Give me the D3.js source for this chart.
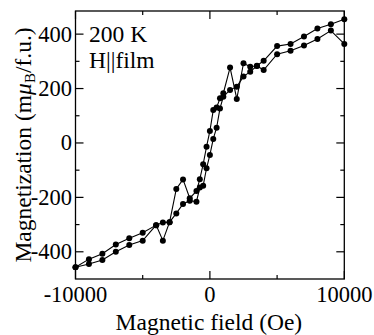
<!DOCTYPE html>
<html><head><meta charset="utf-8">
<script src="https://cdn.jsdelivr.net/npm/d3@7"></script>
<style>body{margin:0;background:#fff}svg{display:block}text{font-family:"Liberation Serif","Times New Roman",serif;fill:#000}</style>
</head><body>
<script>
const fieldUpper = [-10000,-9000,-8000,-7000,-6000,-5000,-4000,-3500,-3000,-2500,-2000,-1500,-1000,-750,-500,-250,0,250,500,750,1000,1500,2000,2500,3000,3500,4000,5000,6000,7000,8000,9000,10000];
const magUpper = [-457,-427,-407,-373,-350,-330,-302,-292,-291,-169,-134,-203,-177,-133,-78,-14,44,121,130,164,183,277,162,293,280,284,302,356,364,391,421,436,455];
const fieldLower = [-10000,-9000,-8000,-7000,-6000,-5000,-4000,-3500,-3000,-2500,-2000,-1500,-1000,-750,-500,-250,0,250,500,750,1000,1500,2000,2500,3000,3500,4000,5000,6000,7000,8000,9000,10000];
const magLower = [-457,-445,-430,-400,-375,-359,-302,-359,-291,-259,-224,-212,-216,-164,-157,-93,-44,15,56,127,170,195,207,244,262,283,268,326,339,358,382,413,364];
const xTickLabels = ["-10000","0","10000"];
const yTickLabels = ["-400","-200","0","200","400"];

const W=374,H=335;
const m={l:75.5,r:344.3,t:11,b:279};
const svg=d3.select("body").append("svg").attr("width",W).attr("height",H);
const x=d3.scaleLinear().domain([-10000,10000]).range([m.l,m.r]);
const y=d3.scaleLinear().domain([-500,485]).range([m.b,m.t]);

const g=svg.append("g");
g.append("rect").attr("x",m.l).attr("y",m.t).attr("width",m.r-m.l).attr("height",m.b-m.t)
 .attr("fill","none").attr("stroke","#000").attr("stroke-width",1.3);

const xMajor=xTickLabels.map(Number), xMinor=[-5000,5000];
const yMajor=yTickLabels.map(Number), yMinor=[-300,-100,100,300];
const tk=g.append("g").attr("stroke","#000").attr("stroke-width",1.2);
function xt(v,len){tk.append("line").attr("x1",x(v)).attr("x2",x(v)).attr("y1",m.b).attr("y2",m.b-len);
 tk.append("line").attr("x1",x(v)).attr("x2",x(v)).attr("y1",m.t).attr("y2",m.t+len);}
function yt(v,len){tk.append("line").attr("y1",y(v)).attr("y2",y(v)).attr("x1",m.l).attr("x2",m.l+len);
 tk.append("line").attr("y1",y(v)).attr("y2",y(v)).attr("x1",m.r).attr("x2",m.r-len);}
xMajor.forEach(v=>xt(v,8));xMinor.forEach(v=>xt(v,4));
yMajor.forEach(v=>yt(v,8));yMinor.forEach(v=>yt(v,4));

g.selectAll(".xl").data(xTickLabels).enter().append("text").attr("x",d=>x(+d)).attr("y",301.5)
 .attr("text-anchor","middle").attr("font-size",22.5).text(d=>d);
g.selectAll(".yl").data(yTickLabels).enter().append("text").attr("x",72).attr("y",d=>y(+d)+7.5)
 .attr("text-anchor","end").attr("font-size",22.5).text(d=>d);

g.append("text").attr("x",(m.l+m.r)/2-1).attr("y",330).attr("text-anchor","middle").attr("font-size",23.5).text("Magnetic field (Oe)");
const yl=g.append("text").attr("transform",`translate(31,${(m.t+m.b)/2}) rotate(-90)`).attr("text-anchor","middle").attr("font-size",23.5);
yl.append("tspan").text("Magnetization (m");
yl.append("tspan").attr("font-style","italic").text("μ");
yl.append("tspan").attr("font-size",15).attr("dy",4).text("B");
yl.append("tspan").attr("dy",-4).text("/f.u.)");

g.append("text").attr("x",89).attr("y",41.7).attr("font-size",23.5).text("200 K");
g.append("text").attr("x",89).attr("y",68.3).attr("font-size",23.5).text("H||film");

const line=d3.line().x(d=>x(d[0])).y(d=>y(d[1]));
[[fieldUpper,magUpper],[fieldLower,magLower]].forEach(([f,mg])=>{
  const pts=f.map((v,i)=>[v,mg[i]]);
  g.append("path").datum(pts).attr("d",line).attr("fill","none").attr("stroke","#000").attr("stroke-width",1.1);
  g.selectAll(null).data(pts).enter().append("circle").attr("cx",d=>x(d[0])).attr("cy",d=>y(d[1])).attr("r",3).attr("fill","#000");
});
</script>
</body></html>
